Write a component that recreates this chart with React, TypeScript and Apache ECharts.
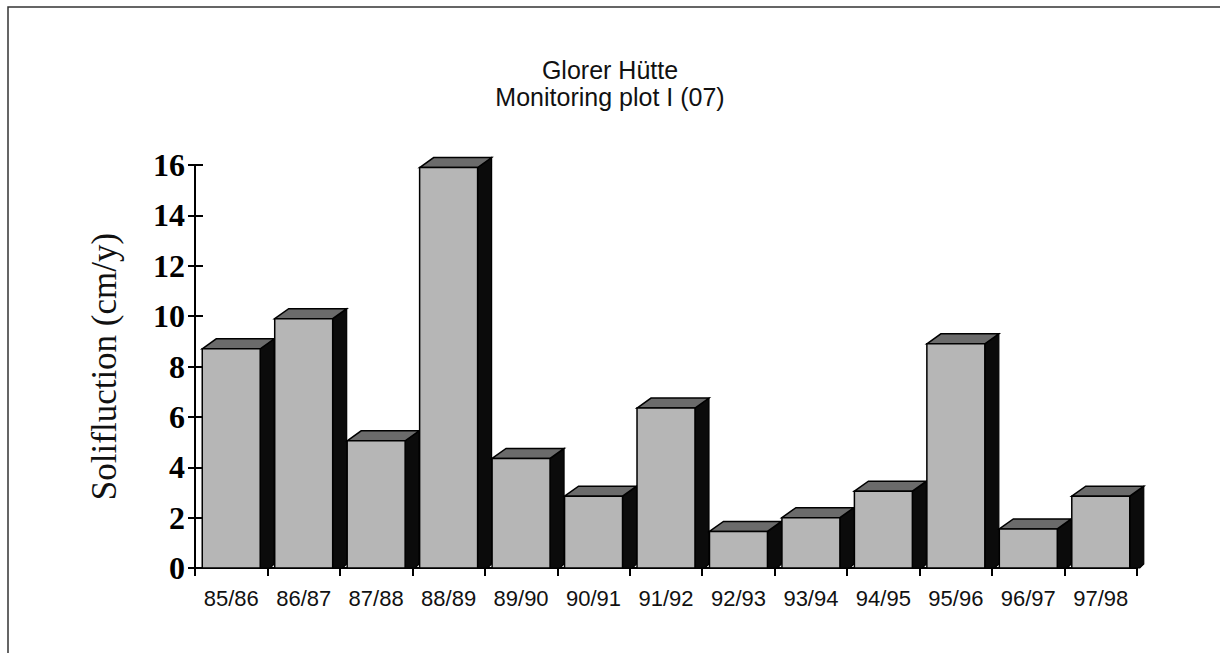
import React, { useEffect, useRef } from "react";
import * as echarts from "echarts";

const categories = ["85/86", "86/87", "87/88", "88/89", "89/90", "90/91", "91/92", "92/93", "93/94", "94/95", "95/96", "96/97", "97/98"];
const solifluction = [8.7, 9.9, 5.05, 15.9, 4.35, 2.85, 6.35, 1.45, 2.0, 3.05, 8.9, 1.55, 2.85];
const titleLines = ["Glorer Hütte", "Monitoring plot I (07)"];
const yAxisName = "Solifluction (cm/y)";

export default function App() {
  const ref = useRef<HTMLDivElement>(null);
  useEffect(() => {
    if (!ref.current) return;
    const chart = echarts.init(ref.current, null, { renderer: "svg" });
    const DX = 14;
    const DY = 10;
    chart.setOption({
      animation: false,
      backgroundColor: "#ffffff",
      title: {
        text: titleLines.join("\n"),
        left: "center",
        top: 56,
        padding: 0,
        textStyle: {
          fontFamily: "Liberation Sans, Arial, sans-serif",
          fontSize: 25,
          fontWeight: "normal",
          color: "#111",
          lineHeight: 27,
        },
      },
      graphic: [
        {
          type: "rect",
          shape: { x: 8, y: 7, width: 1260, height: 700 },
          style: { fill: "none", stroke: "#333", lineWidth: 1.5 },
          z: 0,
        },
      ],
      grid: { left: 195, right: 83, top: 165, bottom: 85 },
      xAxis: {
        type: "category",
        data: categories,
        boundaryGap: true,
        axisLine: { lineStyle: { color: "#000", width: 2 } },
        axisTick: { show: true, length: 8, lineStyle: { color: "#000", width: 2 } },
        axisLabel: {
          fontFamily: "Liberation Sans, Arial, sans-serif",
          fontSize: 22,
          color: "#111",
          margin: 19,
          interval: 0,
        },
      },
      yAxis: [
        {
          type: "value",
          min: 0,
          max: 16,
          interval: 2,
          name: yAxisName,
          nameLocation: "middle",
          nameRotate: 90,
          nameGap: 73,
          nameTextStyle: {
            fontFamily: "Liberation Serif, Times New Roman, serif",
            fontSize: 35,
            color: "#111",
          },
          axisLine: { show: true, lineStyle: { color: "#000", width: 2 } },
          axisTick: { show: true, length: 7, lineStyle: { color: "#000", width: 2 } },
          axisLabel: {
            fontFamily: "Liberation Serif, Times New Roman, serif",
            fontSize: 32,
            fontWeight: "bold",
            color: "#000",
            margin: 10,
          },
          splitLine: { show: false },
        },
        {
          type: "value",
          min: 0,
          max: 16,
          interval: 2,
          position: "left",
          axisLine: { show: false },
          axisTick: { show: true, inside: true, length: 8, lineStyle: { color: "#000", width: 2 } },
          axisLabel: { show: false },
          splitLine: { show: false },
        },
      ],
      series: [
        {
          type: "custom",
          clip: false,
          data: solifluction.map((v, i) => [i, v]),
          renderItem: (params: any, api: any) => {
            const top = api.coord([api.value(0), api.value(1)]);
            const base = api.coord([api.value(0), 0]);
            const band = api.size([1, 0])[0];
            const xl = top[0] - band * 0.4;
            const xr = top[0] + band * 0.4;
            const yt = top[1];
            const yb = base[1];
            return {
              type: "group",
              children: [
                {
                  type: "polygon",
                  shape: { points: [[xr, yt], [xr + DX, yt - DY], [xr + DX, yb - 4], [xr + DX - 4, yb], [xr, yb]] },
                  style: { fill: "#0b0b0b", stroke: "#000", lineWidth: 1.2 },
                },
                {
                  type: "polygon",
                  shape: { points: [[xl, yt], [xl + DX, yt - DY], [xr + DX, yt - DY], [xr, yt]] },
                  style: { fill: "#6b6b6b", stroke: "#000", lineWidth: 1.5 },
                },
                {
                  type: "rect",
                  shape: { x: xl, y: yt, width: xr - xl, height: yb - yt },
                  style: { fill: "#b6b6b6", stroke: "#000", lineWidth: 1.5 },
                },
              ],
            };
          },
        },
      ],
    });
    return () => chart.dispose();
  }, []);
  return (
    <div
      ref={ref}
      style={{ position: "fixed", left: 0, top: 0, width: 1220, height: 653, background: "#fff" }}
    />
  );
}
